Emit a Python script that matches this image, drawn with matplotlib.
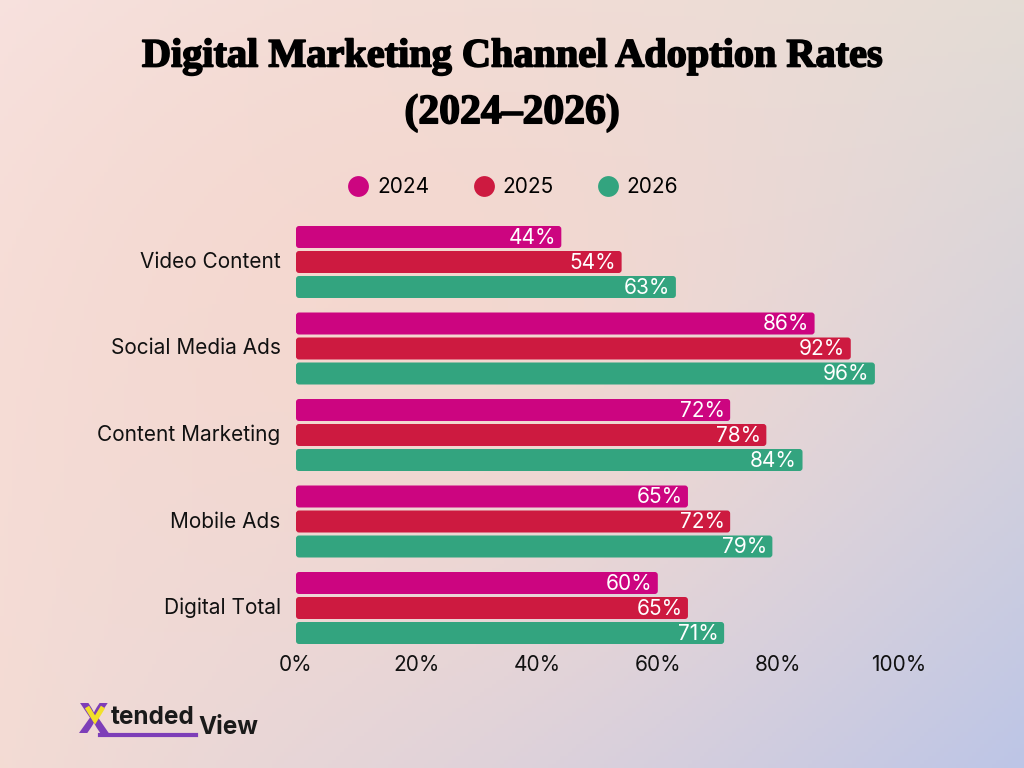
import numpy as np
import matplotlib
matplotlib.use('Agg')
import matplotlib.pyplot as plt
import matplotlib.patheffects as pe
from matplotlib.colors import to_rgb
from matplotlib.patches import FancyBboxPatch
from matplotlib.lines import Line2D

plt.rcParams['font.family'] = ['Inter', 'DejaVu Sans']

# ========== 数据 ==========
categories = ['Video Content', 'Social Media Ads', 'Content Marketing', 'Mobile Ads', 'Digital Total']
years = ['2024', '2025', '2026']
rates_2024 = [44, 86, 72, 65, 60]
rates_2025 = [54, 92, 78, 72, 65]
rates_2026 = [63, 96, 84, 79, 71]
xticks = [0, 20, 40, 60, 80, 100]

series = [rates_2024, rates_2025, rates_2026]
colors = ['#cc0580', '#cd1a40', '#33a47f']

W, H = 1024, 768
fig = plt.figure(figsize=(W / 100, H / 100), dpi=100)

# ---- 背景渐变 ----
bg = fig.add_axes([0, 0, 1, 1], zorder=-10)
nx, ny = 256, 192
xx, yy = np.meshgrid(np.linspace(0, 1, nx), np.linspace(0, 1, ny))
tl, tr = np.array(to_rgb('#f8e5e4')), np.array(to_rgb('#e2ddd6'))
bl, br = np.array(to_rgb('#f3dcd5')), np.array(to_rgb('#b9c4e8'))
mid = np.array(to_rgb('#f6d7cd'))
img = ((1 - xx)[..., None] * (1 - yy)[..., None] * tl + xx[..., None] * (1 - yy)[..., None] * tr
       + (1 - xx)[..., None] * yy[..., None] * bl + xx[..., None] * yy[..., None] * br)
w_mid = np.exp(-(((xx - 0.4) / 0.5) ** 2 + ((yy - 0.4) / 0.55) ** 2))[..., None] * 0.85
img = img * (1 - w_mid) + mid * w_mid
bg.imshow(img, aspect='auto', extent=[0, 1, 0, 1], origin='upper')
bg.set_axis_off()

# ---- 主图 ----
ax_l, ax_r = 296 / W, 899 / W
ax_top, ax_bot = 220, 648
ax = fig.add_axes([ax_l, 1 - ax_bot / H, ax_r - ax_l, (ax_bot - ax_top) / H])
ax.patch.set_alpha(0)

pitch = 86.5
y0 = (ax_top - 262) / pitch
y1 = (ax_bot - 262) / pitch
ax.set_xlim(0, 100)
ax.set_ylim(y1, y0)

bar_h = 22 / pitch
step = 25 / pitch
aspect = (1 / pitch) / (100 / 603)
for j, (vals, c) in enumerate(zip(series, colors)):
    for i, v in enumerate(vals):
        yc = i + (j - 1) * step
        p = FancyBboxPatch((0, yc - bar_h / 2), v, bar_h,
                           boxstyle='round,pad=0,rounding_size=0.5',
                           mutation_aspect=aspect, fc=c, ec='none')
        ax.add_patch(p)
        ax.text(v - 0.9, yc + 0.01, f'{v}%', ha='right', va='center',
                color='white', fontsize=15)

ax.set_yticks(range(len(categories)))
ax.set_yticklabels(categories, fontsize=15, color='#111111', va='bottom')
ax.set_xticks(xticks)
ax.set_xticklabels([f'{t}%' for t in xticks], fontsize=15, color='#111111')
ax.tick_params(axis='y', length=0, pad=11)
ax.tick_params(axis='x', length=0, pad=5)
for lbl in ax.get_yticklabels():
    lbl.set_va('center')
for s in ax.spines.values():
    s.set_visible(False)

# ---- 图例 ----
handles = [Line2D([], [], ls='none', marker='o', ms=15, mfc=c, mec='none') for c in colors]
fig.legend(handles, years, loc='center', bbox_to_anchor=(0.5, 1 - 187 / H), ncol=3,
           frameon=False, fontsize=15, handletextpad=0.3, columnspacing=2.0,
           handlelength=1.2)

# ---- 标题 ----
heavy = [pe.withStroke(linewidth=1.2, foreground='black')]
fig.text(0.5, 1 - 57 / H, 'Digital Marketing Channel Adoption Rates', ha='center', va='center',
         fontsize=29, fontweight='bold', family='Liberation Serif', color='black',
         path_effects=heavy)
fig.text(0.5, 1 - 113 / H, '(2024–2026)', ha='center', va='center',
         fontsize=30, fontweight='bold', family='Liberation Serif', color='black',
         path_effects=heavy)

# ---- 标志 ----
fig.text(78 / W, 1 - 722 / H, 'X', ha='left', va='center', fontsize=30, fontweight='heavy',
         color='#7d3eb8', zorder=3)
fig.add_artist(Line2D([87 / W, 95 / W, 103 / W], [1 - 707 / H, 1 - 720 / H, 1 - 707 / H],
                      color='#f2e12a', lw=3.5, solid_capstyle='butt', solid_joinstyle='miter',
                      zorder=5))
fig.text(111 / W, 1 - 718 / H, 'tended', ha='left', va='center', fontsize=17.5,
         fontweight='bold', color='#1a1a1a')
fig.text(198 / W, 1 - 727 / H, 'View', ha='left', va='center', fontsize=17.5,
         fontweight='bold', color='#1a1a1a')
fig.add_artist(Line2D([100 / W, 196 / W], [1 - 735 / H, 1 - 735 / H], color='#7d3eb8', lw=3))

fig.savefig('out.png', dpi=100)
